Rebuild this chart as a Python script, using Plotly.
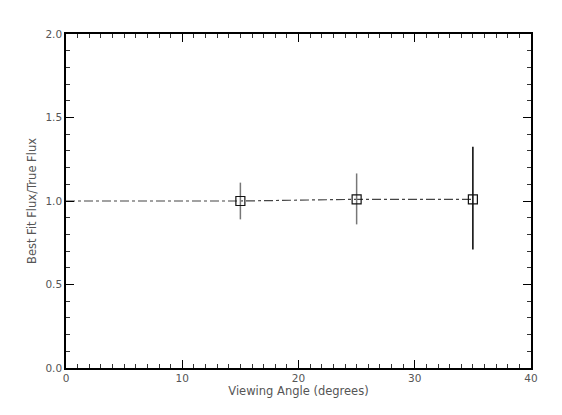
import plotly.graph_objects as go

# valores
angulo = [0, 15, 25, 35]
flujo_ratio = [1.0, 1.0, 1.01, 1.01]
err_sup = [0.0, 0.11, 0.155, 0.315]
err_inf = [0.0, 0.11, 0.15, 0.30]

colores_err = ["#777777", "#777777", "#777777", "#000000"]

fig = go.Figure()

# linea discontinua que une los puntos
fig.add_trace(go.Scatter(x=angulo, y=flujo_ratio, mode="lines",
                         line=dict(color="#444444", width=1.2, dash="dashdot"),
                         showlegend=False, hoverinfo="skip"))

# barras de error, una traza por punto para poder cambiar el color
for i in range(1, len(angulo)):
    fig.add_trace(go.Scatter(
        x=[angulo[i]], y=[flujo_ratio[i]], mode="markers",
        marker=dict(size=1, color="rgba(0,0,0,0)"),
        error_y=dict(type="data", array=[err_sup[i]], arrayminus=[err_inf[i]],
                     color=colores_err[i], thickness=1.5, width=0),
        showlegend=False))

# cuadrados abiertos
fig.add_trace(go.Scatter(x=angulo[1:], y=flujo_ratio[1:], mode="markers",
                         marker=dict(symbol="square-open", size=9, color="#111111",
                                     line=dict(width=1.2)),
                         showlegend=False))

fuente = dict(family="DejaVu Sans", size=10.5, color="#555555")
fuente_titulo = dict(family="DejaVu Sans", size=11.5, color="#555555")

eje = dict(showline=True, linecolor="black", linewidth=1.5, mirror="allticks",
           ticks="inside", ticklen=8, tickcolor="black", tickwidth=1,
           showgrid=False, zeroline=False, tickfont=fuente)

fig.update_xaxes(range=[0, 40], dtick=10, tickformat="d",
                 minor=dict(dtick=1, ticks="inside", ticklen=4, tickcolor="#333333"),
                 title=dict(text="Viewing Angle (degrees)", font=fuente_titulo, standoff=2),
                 **eje)
fig.update_yaxes(range=[0, 2.0], dtick=0.5, tickformat=".1f",
                 minor=dict(dtick=0.1, ticks="inside", ticklen=4, tickcolor="#333333"),
                 title=dict(text="Best Fit Flux/True Flux", font=fuente_titulo, standoff=6),
                 **eje)

# la pagina deja 8px de margen, por eso el lienzo es algo menor
fig.update_layout(
    width=554, height=407,
    margin=dict(l=58, r=31, t=26, b=47),
    plot_bgcolor="white", paper_bgcolor="white",
    font=fuente,
)

fig.write_html("out.html")
